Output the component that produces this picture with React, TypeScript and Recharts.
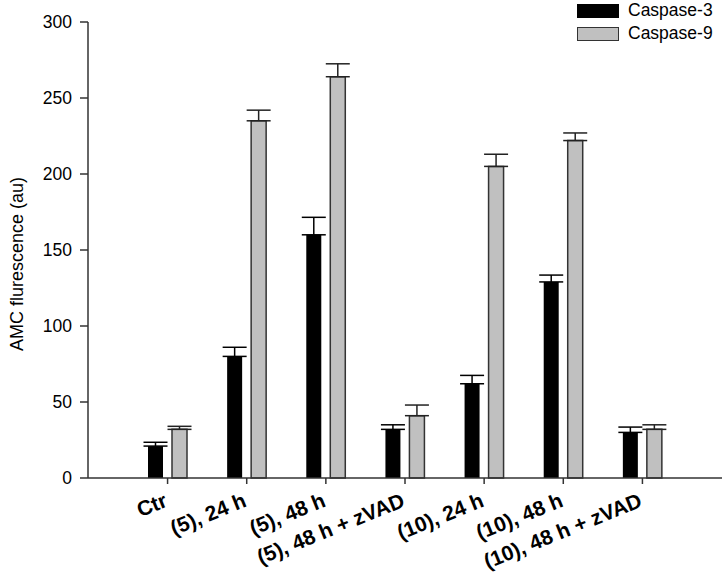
import React from "react";
import {
  BarChart,
  Bar,
  XAxis,
  YAxis,
  ErrorBar,
  Legend,
  Label,
} from "recharts";

const categories = [
  "Ctr",
  "(5), 24 h",
  "(5), 48 h",
  "(5), 48 h + zVAD",
  "(10), 24 h",
  "(10), 48 h",
  "(10), 48 h + zVAD",
];
const caspase3 = [21, 80, 160, 32, 62, 129, 30];
const caspase3Err = [2.5, 6, 11.5, 3, 5.5, 4.5, 3.5];
const caspase9 = [32, 235, 264, 41, 205, 222, 32];
const caspase9Err = [2, 7, 8.5, 7, 8, 5, 3];
const yTicks = [0, 50, 100, 150, 200, 250, 300];

const FONT = "'Liberation Sans', Arial, Helvetica, sans-serif";
const AXIS = "#333333";

// upper-only error bars: [below, above]
const data = categories.map((name, i) => ({
  name,
  c3: caspase3[i],
  c3Err: [0, caspase3Err[i]],
  c9: caspase9[i],
  c9Err: [0, caspase9Err[i]],
}));

const legendItems = [
  { label: "Caspase-3", fill: "#000000", stroke: "#000000" },
  { label: "Caspase-9", fill: "#c0c0c0", stroke: "#333333" },
];

function SlantTick(props: any) {
  const { x, payload } = props;
  const ax = x + 1;
  const ay = 506;
  return (
    <text
      x={ax}
      y={ay}
      textAnchor="end"
      transform={`rotate(-22, ${ax}, ${ay})`}
      style={{ fontFamily: FONT, fontSize: 21, fontWeight: "bold" }}
      fill="#000"
    >
      {payload.value}
    </text>
  );
}

function LegendBox() {
  return (
    <div style={{ fontFamily: FONT, fontSize: 17.5, color: "#000" }}>
      {legendItems.map((it) => (
        <div
          key={it.label}
          style={{ display: "flex", alignItems: "center", height: 23 }}
        >
          <div
            style={{
              width: 40,
              height: 12,
              background: it.fill,
              border: `1.5px solid ${it.stroke}`,
              marginRight: 9,
            }}
          />
          <span>{it.label}</span>
        </div>
      ))}
    </div>
  );
}

export default function App() {
  return (
    <div style={{ position: "absolute", left: 0, top: 0, background: "#fff" }}>
      <BarChart
        width={726}
        height={584}
        data={data}
        margin={{ top: 22, right: 4, left: 0, bottom: 6 }}
        barSize={15}
        barGap={9}
      >
        <XAxis
          dataKey="name"
          interval={0}
          padding={{ left: 40, right: 40 }}
          height={100}
          tickSize={6}
          tickLine={{ stroke: AXIS, strokeWidth: 1.5 }}
          axisLine={{ stroke: AXIS, strokeWidth: 1.5 }}
          tick={<SlantTick />}
        />
        <YAxis
          width={88}
          domain={[0, 300]}
          ticks={yTicks}
          tickSize={8}
          tickMargin={8}
          tickLine={{ stroke: AXIS, strokeWidth: 1.5 }}
          axisLine={{ stroke: AXIS, strokeWidth: 1.5 }}
          tick={{ fill: "#000", fontSize: 17.5, fontFamily: FONT }}
        >
          <Label
            content={() => (
              <text
                x={17}
                y={264}
                textAnchor="middle"
                dominantBaseline="central"
                transform="rotate(-90, 17, 264)"
                style={{ fontFamily: FONT, fontSize: 18 }}
                fill="#000"
              >
                AMC flurescence (au)
              </text>
            )}
          />
        </YAxis>
        <Legend
          layout="vertical"
          align="center"
          verticalAlign="middle"
          wrapperStyle={{ top: -1, left: 577, width: 150 }}
          content={() => <LegendBox />}
        />
        <Bar dataKey="c3" name="Caspase-3" fill="#000000" isAnimationActive={false}>
          <ErrorBar dataKey="c3Err" width={12} stroke="#000" strokeWidth={1.5} />
        </Bar>
        <Bar
          dataKey="c9"
          name="Caspase-9"
          fill="#c0c0c0"
          stroke="#333333"
          strokeWidth={1.5}
          isAnimationActive={false}
        >
          <ErrorBar dataKey="c9Err" width={12} stroke="#222" strokeWidth={1.5} />
        </Bar>
      </BarChart>
    </div>
  );
}
